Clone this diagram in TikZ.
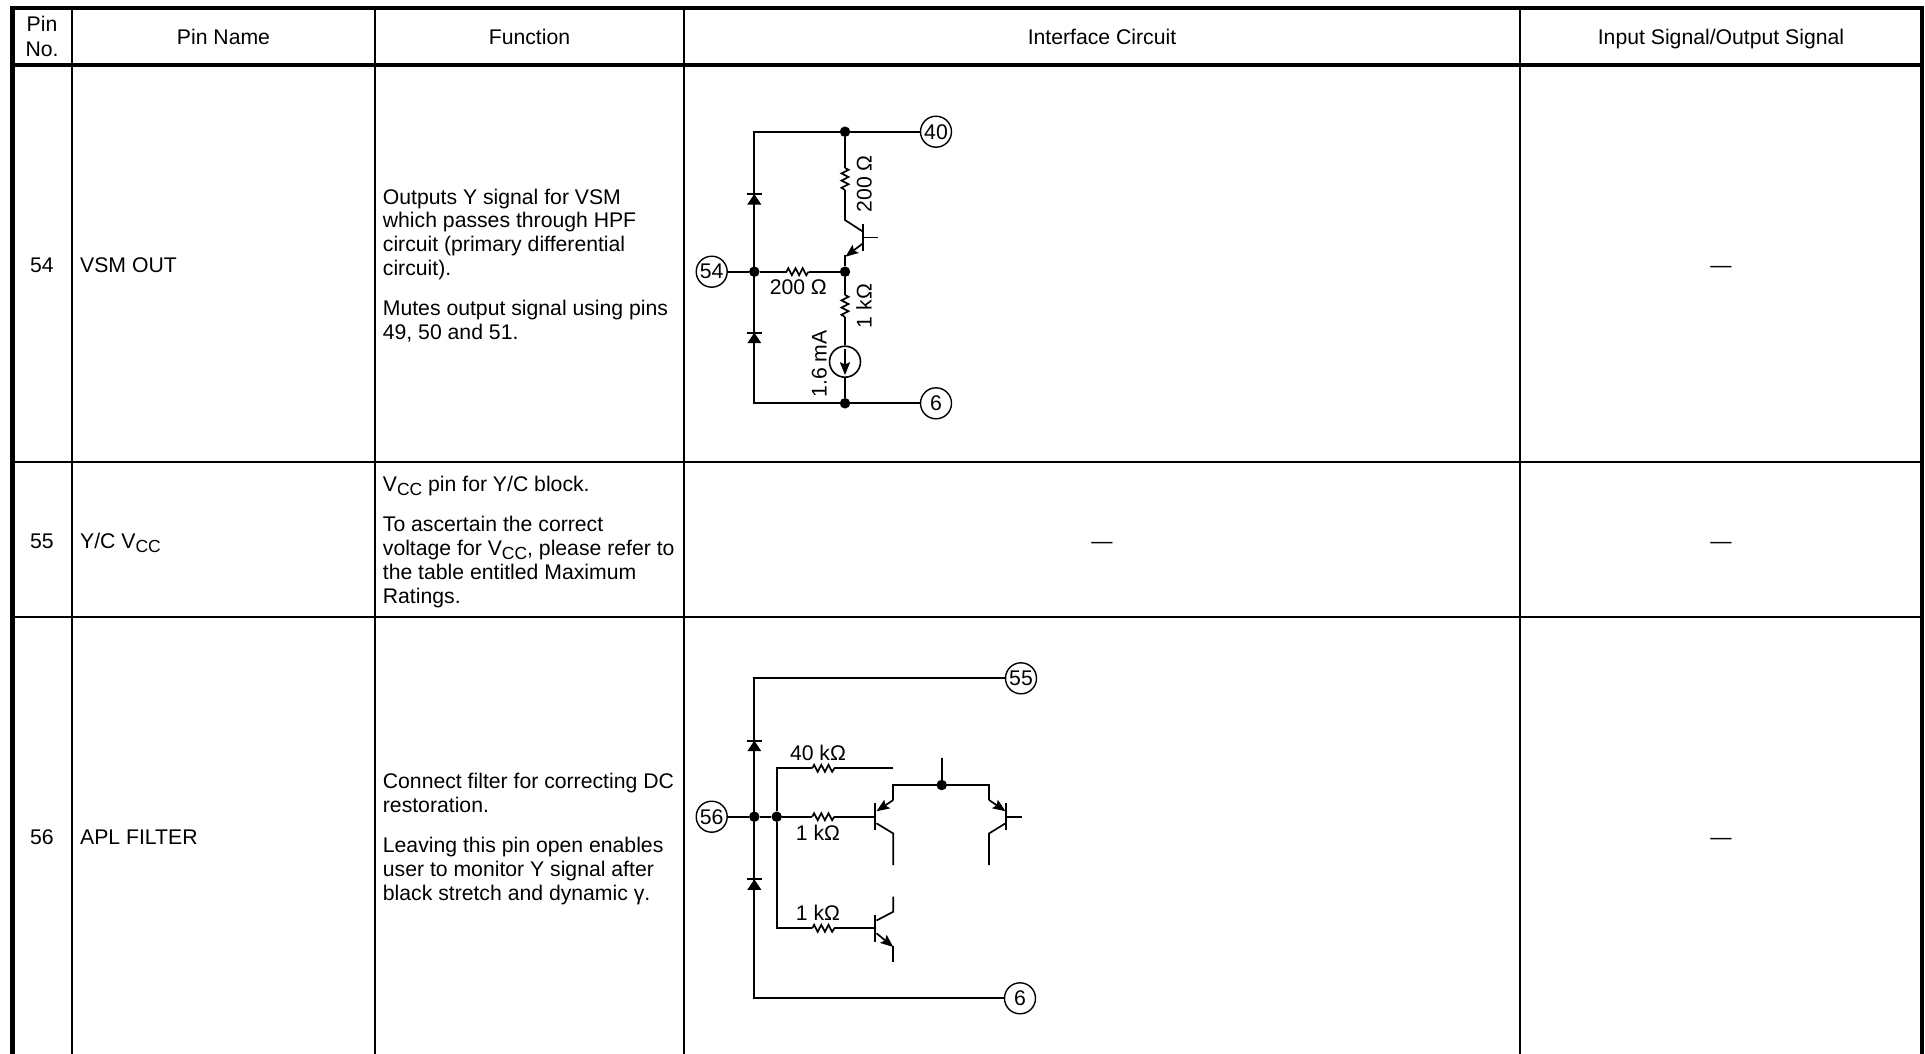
\documentclass[tikz,border=0pt]{standalone}
\usepackage{fontspec}
\setmainfont{Liberation Sans}
\usetikzlibrary{calc}
\newcommand\fsz{\fontsize{21.2}{23.7}\selectfont}
\newcommand\vsub[1]{\raisebox{-4pt}{\fontsize{17.5}{18}\selectfont #1}}
% filled arrow head with tip at #1, pointing away from #2
\newcommand\arrhead[2]{\fill ($(#1)!14pt!22:(#2)$) -- (#1) -- ($(#1)!14pt!-22:(#2)$) -- ($(#1)!10.5pt!(#2)$) -- cycle;}
\begin{document}
\begin{tikzpicture}[x=1pt,y=-1pt,
  thickrule/.style={line width=4.5pt,line join=miter,line cap=rect},
  thinrule/.style={line width=2pt},
  wire/.style={line width=1.7pt},
  barl/.style={line width=2.3pt},
  lbl/.style={font=\fsz,inner sep=0pt,anchor=base},
  lblw/.style={font=\fsz,inner sep=0pt,anchor=base west},
  rlbl/.style={font=\fsz,inner sep=0pt,anchor=base,rotate=90},
  pin/.style={circle,draw,line width=1.4pt,minimum size=31pt,inner sep=0pt,font=\fsz},
  dot/.style={circle,fill,minimum size=10.5pt,inner sep=0pt},
  src/.style={circle,draw,line width=1.6pt,minimum size=31pt,inner sep=0pt},
  diode/.pic={\fill (-7,10.5) -- (7,10.5) -- (0,0) -- cycle; \draw[line width=1.9pt] (-7.5,0) -- (7.5,0);},
  resh/.pic={\draw[wire,line join=miter] (-11,0) -- (-9.2,-3.5) -- (-5.6,3.5) -- (-2,-3.5) -- (1.6,3.5) -- (5.2,-3.5) -- (8.8,3.5) -- (11,0);},
  resv/.pic={\draw[wire,line join=miter] (0,-11) -- (3.5,-9.2) -- (-3.5,-5.6) -- (3.5,-2) -- (-3.5,1.6) -- (3.5,5.2) -- (-3.5,8.8) -- (0,11);}
]
\fill[white] (0,0) rectangle (1925,1053);
\useasboundingbox (0,0) rectangle (1925,1053);

% ---------------- table grid ----------------
\draw[thinrule] (72,8) -- (72,1060);
\draw[thinrule] (375,8) -- (375,1060);
\draw[thinrule] (684,8) -- (684,1060);
\draw[thinrule] (1520,8) -- (1520,1060);
\draw[thinrule] (12.5,462.3) -- (1922,462.3);
\draw[thinrule] (12.5,617) -- (1922,617);
\draw[thickrule] (12.5,1062) -- (12.5,8) -- (1922,8) -- (1922,1062);
\draw[thickrule] (12.5,65) -- (1922,65);

% ---------------- header ----------------
\node[lbl] (hpin1) at (42,31.5) {Pin};
\node[lbl] (hpin2) at (42,56) {No.};
\node[lbl] (hname) at (223.5,44.7) {Pin Name};
\node[lbl] (hfunc) at (529.5,44.7) {Function};
\node[lbl] (hintf) at (1102,44.7) {Interface Circuit};
\node[lbl] (hsig)  at (1721,44.7) {Input Signal/Output Signal};

% ---------------- row 54 ----------------
\node[lbl]  (n54) at (42,272.5) {54};
\node[lblw] (m54) at (80,272.5) {VSM OUT};
\node[lblw] (f54a) at (382.7,204) {Outputs Y signal for VSM};
\node[lblw] (f54b) at (382.7,227.7) {which passes through HPF};
\node[lblw] (f54c) at (382.7,251.4) {circuit (primary differential};
\node[lblw] (f54d) at (382.7,275.1) {circuit).};
\node[lblw] (f54e) at (382.7,315.5) {Mutes output signal using pins};
\node[lblw] (f54f) at (382.7,339.2) {49, 50 and 51.};
\node[lbl]  (s54) at (1721,272.5) {—};

% ---------------- row 55 ----------------
\node[lbl]  (n55) at (42,548) {55};
\node[lblw] (m55) at (80,548) {Y/C V\vsub{CC}};
\node[lblw] (f55a) at (382.7,491.5) {V\vsub{CC} pin for Y/C block.};
\node[lblw] (f55b) at (382.7,531.9) {To ascertain the correct};
\node[lblw] (f55c) at (382.7,555.6) {voltage for V\vsub{CC}, please refer to};
\node[lblw] (f55d) at (382.7,579.3) {the table entitled Maximum};
\node[lblw] (f55e) at (382.7,603) {Ratings.};
\node[lbl]  (i55) at (1102,548) {—};
\node[lbl]  (s55) at (1721,548) {—};

% ---------------- row 56 ----------------
\node[lbl]  (n56) at (42,844) {56};
\node[lblw] (m56) at (80,844) {APL FILTER};
\node[lblw] (f56a) at (382.7,788.5) {Connect filter for correcting DC};
\node[lblw] (f56b) at (382.7,812.2) {restoration.};
\node[lblw] (f56c) at (382.7,852.6) {Leaving this pin open enables};
\node[lblw] (f56d) at (382.7,876.3) {user to monitor Y signal after};
\node[lblw] (f56e) at (382.7,900) {black stretch and dynamic γ.};
\node[lbl]  (s56) at (1721,844) {—};

% ================= circuit pin 54 =================
\coordinate (TL) at (754.3,131.7);
\coordinate (BL) at (754.3,403.3);
\node[dot] (Dtop) at (845,131.7) {};
\node[dot] (Dbot) at (845,403.3) {};
\node[dot] (Dl) at (754.3,271.7) {};
\node[dot] (Dr) at (845,271.7) {};
\node[pin] (P40) at (936,131.7) {40};
\node[pin] (P6a) at (936,403.3) {6};
\node[pin] (P54) at (711.7,271.7) {54};
\node[src] (CS) at (845,361.7) {};

\draw[wire] (P40) -- (Dtop) -- (TL) -- (BL) -- (Dbot) -- (P6a);
\pic at (754.3,194) {diode};
\pic at (754.3,332.7) {diode};
% horizontal 200 ohm
\coordinate (RHa) at (786.5,271.7);
\coordinate (RHb) at (808.5,271.7);
\draw[wire] (P54) -- (Dl) -- (RHa);
\pic at (797.5,271.7) {resh};
\draw[wire] (RHb) -- (Dr);
% upper vertical 200 ohm + transistor
\coordinate (RV1a) at (845,168);
\coordinate (RV1b) at (845,190);
\coordinate (Col) at (845,220);
\coordinate (ColB) at (862.7,231.5);
\coordinate (EmB) at (862.7,243.5);
\coordinate (EmE) at (845.5,256.7);
\draw[wire] (Dtop) -- (RV1a);
\pic at (845,179) {resv};
\draw[wire] (RV1b) -- (Col) -- (ColB);
\draw[barl] (862.7,224) -- (862.7,251);
\draw[wire] (862.7,237.5) -- (877.5,237.5);
\draw[wire,shorten >=5pt] (EmB) -- (EmE);
\arrhead{EmE}{EmB}
\draw[wire] (845,255) -- (Dr);
% lower vertical 1k + current source
\coordinate (RV2a) at (845,295);
\coordinate (RV2b) at (845,317);
\coordinate (CSa) at (845,349);
\coordinate (CSb) at (845,375);
\draw[wire] (Dr) -- (RV2a);
\pic at (845,306) {resv};
\draw[wire] (RV2b) -- (CS) -- (Dbot);
\draw[wire,shorten >=5pt] (CSa) -- (CSb);
\arrhead{CSb}{CSa}
% labels
\node[lbl] (L200h) at (798.3,294) {200 Ω};
\node[rlbl] (L200v) at (871.7,184) {200 Ω};
\node[rlbl] (L1k) at (871.7,306) {1 kΩ};
\node[rlbl] (L16) at (826.7,364) {1.6 mA};

% ================= circuit pin 56 =================
\coordinate (TL2) at (754.3,678.3);
\coordinate (BL2) at (754.3,998.3);
\node[pin] (P55) at (1021,678.3) {55};
\node[pin] (P6b) at (1020,998.3) {6};
\node[pin] (P56) at (711.7,816.7) {56};
\node[dot] (E1) at (754.3,816.7) {};
\node[dot] (E2) at (776.7,816.7) {};
\node[dot] (E3) at (941.7,785) {};
\draw[wire] (P55) -- (TL2) -- (BL2) -- (P6b);
\pic at (754.3,740.7) {diode};
\pic at (754.3,879.3) {diode};
% middle branch
\draw[wire] (P56) -- (E1) -- (E2) -- (812.3,816.7);
\pic at (823.3,816.7) {resh};
\draw[wire] (834.3,816.7) -- (875,816.7);
% upper 40k branch and lower branch
\draw[wire] (893.3,768.3) -- (834.3,768.3);
\pic at (823.3,768.3) {resh};
\draw[wire] (812.3,768.3) -- (776.7,768.3) -- (E2) -- (776.7,928.3) -- (812.3,928.3);
\pic at (823.3,928.3) {resh};
\draw[wire] (834.3,928.3) -- (875,928.3);
% T1 (pnp)
\coordinate (T1e) at (893.3,800);
\coordinate (T1t) at (876.5,811.2);
\draw[barl] (875,803) -- (875,830);
\draw[wire] (893.3,784.2) -- (T1e);
\draw[wire,shorten >=5pt] (T1e) -- (T1t);
\arrhead{T1t}{T1e}
\draw[wire] (876.5,823.3) -- (893.3,833.5) -- (893.3,865);
% emitter rail
\draw[wire] (893.3,785) -- (989,785);
\draw[wire] (E3) -- (941.7,758.3);
% T2 (pnp, mirrored)
\coordinate (T2e) at (989,800);
\coordinate (T2t) at (1005.5,811.2);
\draw[barl] (1006,803) -- (1006,830);
\draw[wire] (989,784.2) -- (T2e);
\draw[wire,shorten >=5pt] (T2e) -- (T2t);
\arrhead{T2t}{T2e}
\draw[wire] (1006,816.7) -- (1021.7,816.7);
\draw[wire] (1005.5,823.3) -- (989,833.5) -- (989,865);
% T3 (npn)
\coordinate (T3b) at (876.5,933.3);
\coordinate (T3t) at (893.3,947);
\draw[barl] (875,915) -- (875,942);
\draw[wire] (893.3,896.7) -- (893.3,911.7) -- (876.5,920.5);
\draw[wire,shorten >=5pt] (T3b) -- (T3t);
\arrhead{T3t}{T3b}
\draw[wire] (893.3,946) -- (893.3,961.7);
% labels
\node[lbl] (L40k) at (818,760) {40 kΩ};
\node[lbl] (L1ka) at (818,840) {1 kΩ};
\node[lbl] (L1kb) at (818,920) {1 kΩ};
\end{tikzpicture}
\end{document}
